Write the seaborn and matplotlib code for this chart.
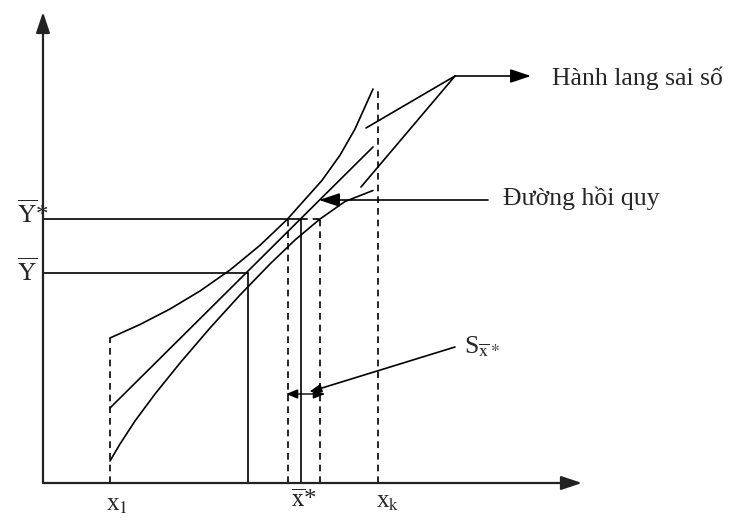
import matplotlib
matplotlib.use("Agg")
import matplotlib.pyplot as plt
import seaborn as sns

sns.set_theme(style="white")
plt.rcParams["font.family"] = ["Liberation Serif", "DejaVu Serif"]
plt.rcParams["mathtext.fontset"] = "stix"

# diagram, in pixel-like units (y grows downward)
x_upper = [110, 140, 170, 200, 230, 260, 287, 322, 340, 355, 373]
y_upper = [338, 324.5, 309, 291, 270, 245.3, 219.6, 180.4, 155.2, 129, 89]
x_reg = [110, 373]
y_reg = [408, 147]
x_lower = [110, 120, 135, 155, 180, 210, 240, 270, 295, 320, 345, 373]
y_lower = [461, 444, 421, 394, 363, 328, 295, 264, 240, 219, 201.5, 190.5]

x_1, x_bar, x_star, x_k = 110, 248, 301, 378
s_left, s_right = 288, 320
y_bar, y_star = 273, 219
origin_x, origin_y = 43, 483

INK = "black"
LW = 1.2
DASH = (0, (4, 3))

fig = plt.figure(figsize=(7.3, 5.18), dpi=100)
ax = fig.add_axes([0, 0, 1, 1])
ax.set_xlim(0, 730)
ax.set_ylim(518, 0)
ax.axis("off")

# confidence band and regression line
for xs, ys in [(x_upper, y_upper), (x_reg, y_reg), (x_lower, y_lower)]:
    sns.lineplot(x=xs, y=ys, sort=False, estimator=None, color=INK, lw=LW, ax=ax)

# axes with arrows
axis_arrow = dict(arrowstyle="-|>,head_length=0.9,head_width=0.3", color="#222",
                  lw=1.6, mutation_scale=14, shrinkA=0, shrinkB=0)
ax.annotate("", xy=(582, origin_y), xytext=(origin_x, origin_y), arrowprops=axis_arrow)
ax.annotate("", xy=(origin_x, 12), xytext=(origin_x, origin_y), arrowprops=axis_arrow)

# guide lines
ax.plot([x_1, x_1], [origin_y, y_upper[0]], color=INK, lw=LW, ls=DASH)
ax.plot([x_k, x_k], [origin_y, y_upper[-1]], color=INK, lw=LW, ls=DASH)
ax.plot([s_left, s_left], [origin_y, y_star], color=INK, lw=LW, ls=DASH)
ax.plot([s_right, s_right], [origin_y, y_star], color=INK, lw=LW, ls=DASH)
ax.plot([origin_x, x_star], [y_star, y_star], color=INK, lw=LW)
ax.plot([x_star, s_right], [y_star, y_star], color=INK, lw=LW, ls=DASH)
ax.plot([x_star, x_star], [y_star, origin_y], color=INK, lw=LW)
ax.plot([origin_x, x_bar], [y_bar, y_bar], color=INK, lw=LW)
ax.plot([x_bar, x_bar], [y_bar, origin_y], color=INK, lw=LW)

# S interval double arrow
ax.annotate("", xy=(s_left - 2, 394), xytext=(s_right + 5, 394),
            arrowprops=dict(arrowstyle="<|-|>,head_length=0.5,head_width=0.2",
                            color=INK, lw=1.0, mutation_scale=14, shrinkA=0, shrinkB=0))

# callouts
ax.plot([366, 455], [128, 76], color=INK, lw=LW)
ax.plot([361, 455], [187, 76], color=INK, lw=LW)
head = dict(arrowstyle="-|>,head_length=0.9,head_width=0.3", color=INK,
            lw=LW, mutation_scale=14, shrinkA=0, shrinkB=0)
ax.annotate("", xy=(531, 76), xytext=(455, 76), arrowprops=head)
ax.annotate("", xy=(319, 200), xytext=(488, 200), arrowprops=head)
ax.annotate("", xy=(309, 392), xytext=(455, 347),
            arrowprops=dict(arrowstyle="-|>,head_length=0.6,head_width=0.2", color=INK,
                            lw=LW, mutation_scale=12, shrinkA=0, shrinkB=0))

fs = 18.5
ax.text(552, 78, "Hành lang sai số", fontsize=fs, ha="left", va="center")
ax.text(503, 198, "Đường hồi quy", fontsize=fs, ha="left", va="center")
ax.text(464, 346, r"S$_{\overline{\mathrm{x}}*}$", fontsize=fs, ha="left", va="center")

ax.text(17, 272, r"$\overline{\mathrm{Y}}$", fontsize=18, ha="left", va="center")
ax.text(17, 214, r"$\overline{\mathrm{Y}}$*", fontsize=18, ha="left", va="center")

ax.text(106, 505, r"x$_{1}$", fontsize=18, ha="left", va="center")
ax.text(291, 500, r"$\overline{\mathrm{x}}$*", fontsize=18, ha="left", va="center")
ax.text(376, 502, r"x$_{\mathrm{k}}$", fontsize=18, ha="left", va="center")

fig.savefig("out.png", dpi=100)
